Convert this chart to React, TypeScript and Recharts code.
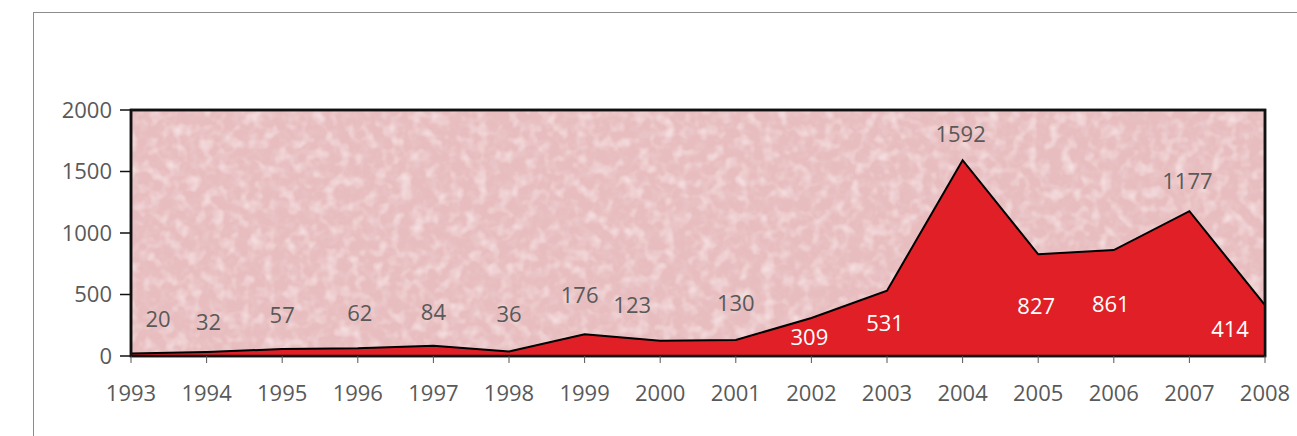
import * as React from 'react';
import { AreaChart, Area, XAxis, YAxis, ReferenceArea, LabelList } from 'recharts';

const YEARS = ['1993', '1994', '1995', '1996', '1997', '1998', '1999', '2000', '2001', '2002', '2003', '2004', '2005', '2006', '2007', '2008'];
const COUNTS = [20, 32, 57, 62, 84, 36, 176, 123, 130, 309, 531, 1592, 827, 861, 1177, 414];
const Y_TICKS = [0, 500, 1000, 1500, 2000];

// label nudges (px) – the original had hand placed labels
const LABEL_NUDGE: [number, number][] = [
  [27, -34], [2, -30], [0, -34], [2, -35], [0, -33], [0, -37], [-5, -39], [-28, -36],
  [0, -37], [-2, 19], [-2, 33], [-2, -26], [-2, 52], [-3, 54], [-2, -30], [-35, 24],
];
const WHITE_LABELS = [9, 10, 12, 13, 15];

const FONT = '"Open Sans", sans-serif';
const GREY = '#595959';

const data = YEARS.map((year, i) => ({ year, value: COUNTS[i] }));

function ValueLabel(props: any) {
  const { x, y, value, index } = props;
  const [dx, dy] = LABEL_NUDGE[index] ?? [0, -30];
  return (
    <text
      x={x + dx}
      y={y + dy}
      dy="0.355em"
      textAnchor="middle"
      fontFamily={FONT}
      fontSize={22}
      fill={WHITE_LABELS.includes(index) ? '#ffffff' : GREY}
    >
      {value}
    </text>
  );
}

export default function App() {
  return (
    <div style={{ position: 'absolute', left: 0, top: 0, width: 1297, height: 436, background: '#fff', overflow: 'hidden' }}>
      <div
        style={{
          position: 'absolute',
          left: 33,
          top: 12,
          width: 1400,
          height: 600,
          borderTop: '1.5px solid #8c8c8c',
          borderLeft: '1.5px solid #8c8c8c',
        }}
      />
      <div style={{ position: 'absolute', left: 0, top: 0 }}>
        <AreaChart width={1297} height={436} data={data} margin={{ top: 110, right: 32, bottom: 40, left: 71 }}>
          <defs>
            <filter id="darkNoise" x="0" y="0" width="100%" height="100%">
              <feTurbulence type="fractalNoise" baseFrequency="0.1" numOctaves={2} seed={7} />
              <feColorMatrix
                type="matrix"
                values="0 0 0 0 0.82  0 0 0 0 0.58  0 0 0 0 0.60  2.2 0 0 0 -1.0"
              />
            </filter>
            <filter id="lightNoise" x="0" y="0" width="100%" height="100%">
              <feTurbulence type="fractalNoise" baseFrequency="0.08" numOctaves={2} seed={21} />
              <feColorMatrix
                type="matrix"
                values="0 0 0 0 0.95  0 0 0 0 0.82  0 0 0 0 0.83  0 1.8 0 0 -0.85"
              />
            </filter>
            <pattern id="tex" patternUnits="userSpaceOnUse" width={1297} height={436}>
              <rect width={1297} height={436} fill="#e8bdbf" />
              <rect width={1297} height={436} fill="#000" filter="url(#darkNoise)" />
              <rect width={1297} height={436} fill="#000" filter="url(#lightNoise)" />
            </pattern>
          </defs>
          <XAxis
            dataKey="year"
            axisLine={false}
            tickSize={7}
            tickMargin={22}
            tickLine={{ stroke: '#555', strokeWidth: 1 }}
            tick={{ fill: GREY, fontFamily: FONT, fontSize: 22 }}
            height={40}
          />
          <YAxis
            domain={[0, 2000]}
            ticks={Y_TICKS}
            width={60}
            axisLine={false}
            tickSize={11}
            tickMargin={8}
            tickLine={{ stroke: '#111', strokeWidth: 1.5 }}
            tick={{ fill: GREY, fontFamily: FONT, fontSize: 22 }}
          />
          <ReferenceArea
            x1="1993"
            x2="2008"
            y1={0}
            y2={2000}
            fill="url(#tex)"
            fillOpacity={1}
            stroke="#111"
            strokeWidth={2.5}
          />
          <Area
            type="linear"
            dataKey="value"
            fill="#e01f26"
            fillOpacity={1}
            stroke="#000"
            strokeWidth={2}
            isAnimationActive={false}
          >
            <LabelList dataKey="value" content={<ValueLabel />} />
          </Area>
          <ReferenceArea
            x1="1993"
            x2="2008"
            y1={0}
            y2={2000}
            fill="none"
            stroke="#111"
            strokeWidth={2.5}
          />
        </AreaChart>
      </div>
    </div>
  );
}
